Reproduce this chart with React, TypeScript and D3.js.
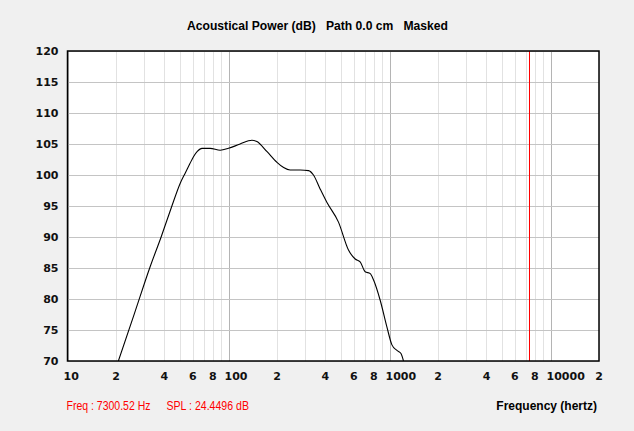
import React from "react";
import * as d3 from "d3";

const freqs = [20.7, 26, 32.6, 38.2, 44.5, 50, 53.8, 57.5, 60.6, 64, 68.4, 76.9, 88.8, 100, 118, 139.8, 150, 173, 200, 220, 241.5, 279, 314, 337, 370, 408, 482, 556, 612, 657, 706, 759, 795, 875, 963, 1035, 1112, 1178, 1221];
const spl = [70, 77.6, 85.2, 90.05, 95, 98.6, 100.3, 101.8, 102.95, 103.8, 104.3, 104.3, 104.0, 104.3, 105.0, 105.6, 105.4, 103.8, 102.05, 101.2, 100.8, 100.8, 100.7, 100.0, 97.8, 95.6, 92.4, 87.9, 86.45, 86.0, 84.4, 84.1, 83.1, 79.8, 75.5, 72.6, 71.7, 71.2, 70];
const yTicks = [70, 75, 80, 85, 90, 95, 100, 105, 110, 115, 120];
const xTickLabels: [number, string][] = [
  [10, "10"], [20, "2"], [40, "4"], [60, "6"], [80, "8"],
  [100, "100"], [200, "2"], [400, "4"], [600, "6"], [800, "8"],
  [1000, "1000"], [2000, "2"], [4000, "4"], [6000, "6"], [8000, "8"],
  [10000, "10000"], [20000, "2"],
];
const cursorFreq = 7300.52;
const cursorText = "Freq : 7300.52 Hz";
const splText = "SPL : 24.4496 dB";
const title = "Acoustical Power (dB)   Path 0.0 cm   Masked";

export default function App() {
  const W = 634, H = 431;
  const L = 67.5, R = 599, T = 51, B = 361;
  const x = d3.scaleLog().domain([10, 20000]).range([L, R]);
  const y = d3.scaleLinear().domain([70, 120]).range([B, T]);

  const minor: number[] = [];
  const major: number[] = [];
  for (const dec of [10, 100, 1000, 10000]) {
    for (let m = 1; m <= 9; m++) {
      const f = dec * m;
      if (f > 20000) break;
      if (m === 1) major.push(f); else minor.push(f);
    }
  }
  const line = d3.line<number>()
    .x((_, i) => x(freqs[i]))
    .y((d) => y(d))
    .curve(d3.curveMonotoneX);
  const font = "'DejaVu Sans', Verdana, sans-serif";
  const px = (v: number) => Math.round(v) + 0.5;

  return (
    <svg width={W} height={H} style={{ position: "absolute", left: 0, top: 0, background: "#f0f0f0" }}>
      <defs>
        <clipPath id="plotclip">
          <rect x={L} y={T} width={R - L} height={B - T} />
        </clipPath>
      </defs>
      <rect x={0} y={0} width={W} height={H} fill="#f0f0f0" />
      <rect x={L} y={T} width={R - L} height={B - T} fill="#ffffff" />
      <g shapeRendering="crispEdges">
        {minor.map((f) => (
          <line key={"mi" + f} x1={px(x(f))} x2={px(x(f))} y1={T} y2={B} stroke="#e2e2e2" />
        ))}
        {major.map((f) => (
          <line key={"ma" + f} x1={px(x(f))} x2={px(x(f))} y1={T} y2={B} stroke="#b4b4b4" />
        ))}
        {yTicks.map((v) => (
          <line key={"h" + v} x1={L} x2={R} y1={px(y(v))} y2={px(y(v))} stroke="#c4c4c4" />
        ))}
      </g>
      <path d={line(spl) || ""} fill="none" stroke="#000" strokeWidth={1.1} clipPath="url(#plotclip)" />
      <line x1={px(x(cursorFreq))} x2={px(x(cursorFreq))} y1={T} y2={B} stroke="#ff0000" strokeWidth={1} shapeRendering="crispEdges" />
      <rect x={L} y={T} width={R - L} height={B - T} fill="none" stroke="#000" strokeWidth={1.5} />
      {yTicks.map((v) => (
        <text key={"yl" + v} x={58.5} y={y(v)} dy="0.36em" textAnchor="end" fontFamily={font} fontWeight="bold" fontSize={11} fill="#111">{v}</text>
      ))}
      {xTickLabels.map(([f, s]) => (
        <text key={"xl" + f} x={s.length > 1 ? x(f) - 4 : x(f)} y={380} textAnchor={s.length > 1 ? "start" : "middle"} fontFamily={font} fontWeight="bold" fontSize={11} fill="#111">{s}</text>
      ))}
      <text x={317.5} y={30} textAnchor="middle" fontFamily="'Liberation Sans', Arial, sans-serif" fontWeight="bold" fontSize={12.5} fill="#000" textLength={261} lengthAdjust="spacingAndGlyphs" style={{ whiteSpace: "pre" }}>{title}</text>
      <text x={597} y={410} textAnchor="end" fontFamily="'Liberation Sans', Arial, sans-serif" fontWeight="bold" fontSize={12} fill="#000">Frequency (hertz)</text>
      <text x={66.5} y={410} fontFamily="'Liberation Sans', Arial, sans-serif" fontSize={12.5} fill="#ff0000" textLength={84} lengthAdjust="spacingAndGlyphs">{cursorText}</text>
      <text x={166.5} y={410} fontFamily="'Liberation Sans', Arial, sans-serif" fontSize={12.5} fill="#ff0000" textLength={82.5} lengthAdjust="spacingAndGlyphs">{splText}</text>
    </svg>
  );
}
